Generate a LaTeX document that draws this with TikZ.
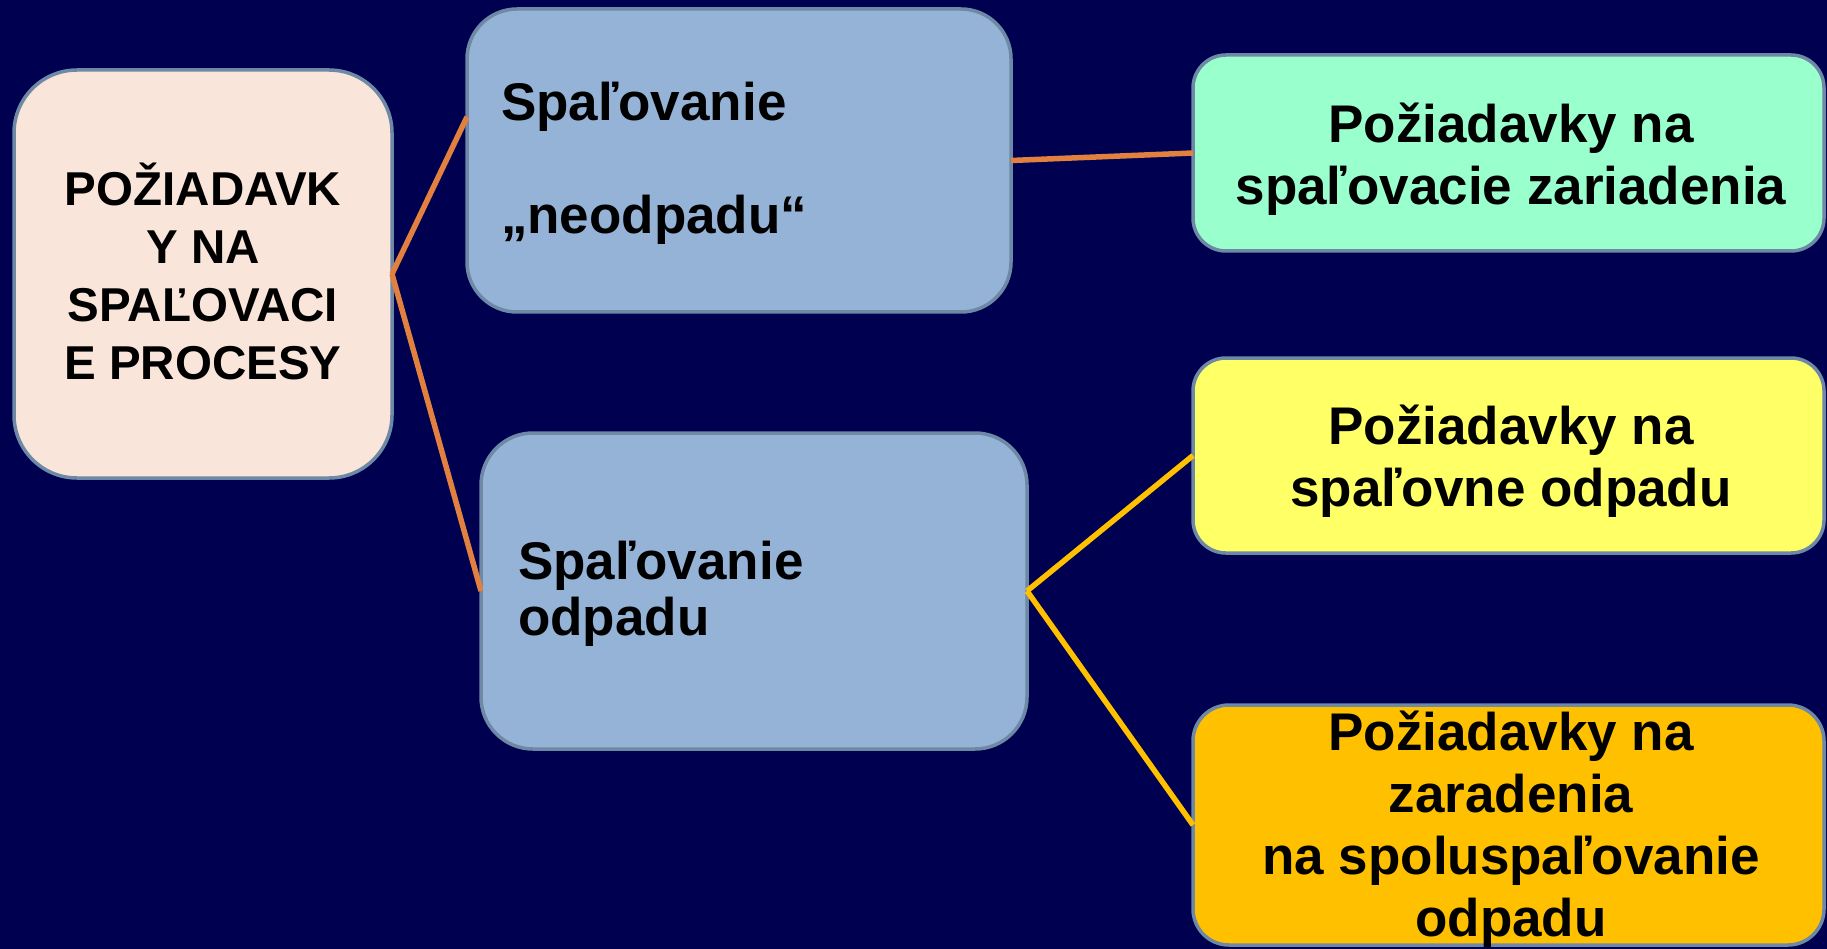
\documentclass[tikz,border=0pt]{standalone}
\usepackage{fontspec}
\setmainfont{Liberation Sans}
\usetikzlibrary{calc}
\definecolor{bg}{RGB}{0,0,80}
\definecolor{boxline}{RGB}{110,137,165}
\definecolor{fillA}{RGB}{249,229,218}
\definecolor{fillB}{RGB}{149,179,215}
\definecolor{fillD}{RGB}{153,255,204}
\definecolor{fillE}{RGB}{255,255,102}
\definecolor{fillF}{RGB}{255,192,0}
\definecolor{linorange}{RGB}{226,128,64}
\definecolor{linyellow}{RGB}{255,192,0}
\begin{document}
\begin{tikzpicture}[x=1pt,y=-1pt,
  box/.style={draw=boxline, line width=3.5pt, inner sep=0pt, outer sep=0pt, rectangle},
  txt/.style={inner sep=0pt, outer sep=0pt, text=black, font=\bfseries\fontsize{53}{62}\selectfont},
  txtA/.style={inner sep=0pt, outer sep=0pt, text=black, align=center, font=\bfseries\fontsize{47.5}{58}\selectfont},
  txtL/.style={inner sep=0pt, outer sep=0pt, text=black, align=left, anchor=west, font=\bfseries\fontsize{53}{56.5}\selectfont},
  orangeline/.style={draw=linorange, line width=5.5pt},
  yellowline/.style={draw=linyellow, line width=5.5pt}]
\useasboundingbox (0,0) rectangle (1827,949);
\fill[bg] (0,0) rectangle (1827,949);
\clip (0,0) rectangle (1827,949);

\node[box, fill=fillA, rounded corners=63pt, minimum width=378pt, minimum height=408pt] (A) at (203,274) {};
\node[box, fill=fillB, rounded corners=50pt, minimum width=544pt, minimum height=303pt] (B) at (739,160.5) {};
\node[box, fill=fillB, rounded corners=52pt, minimum width=546pt, minimum height=316pt] (C) at (754,591) {};
\node[box, fill=fillD, rounded corners=33pt, minimum width=631pt, minimum height=196pt] (D) at (1508.5,153) {};
\node[box, fill=fillE, rounded corners=33pt, minimum width=631pt, minimum height=195pt] (E) at (1508.5,455.5) {};
\node[box, fill=fillF, rounded corners=36pt, minimum width=631pt, minimum height=240pt] (F) at (1508.5,825) {};

\draw[orangeline] (A.east) -- ($(B.north west)!0.356!(B.south west)$);
\draw[orangeline] (A.east) -- (C.west);
\draw[orangeline] (B.east) -- (D.west);
\draw[yellowline] (C.east) -- (E.west);
\draw[yellowline] (C.east) -- (F.west);

\node[txtA] (At) at (203,271.5) {POŽIADAVK\\Y NA\\SPAĽOVACI\\E PROCESY};
\node[txtL] (Bt) at (501,163.5) {Spaľovanie\\[56.5pt]„neodpadu“};
\node[txtL] (Ct) at (518,594) {Spaľovanie\\odpadu};
\node[txt, align=center] (Dt) at (1511,159) {Požiadavky na\\spaľovacie zariadenia};
\node[txt, align=center] (Et) at (1511,461) {Požiadavky na\\spaľovne odpadu};
\node[txt, align=center] (Ft) at (1511,829.5) {Požiadavky na\\zaradenia\\na spoluspaľovanie\\odpadu};
\end{tikzpicture}
\end{document}
